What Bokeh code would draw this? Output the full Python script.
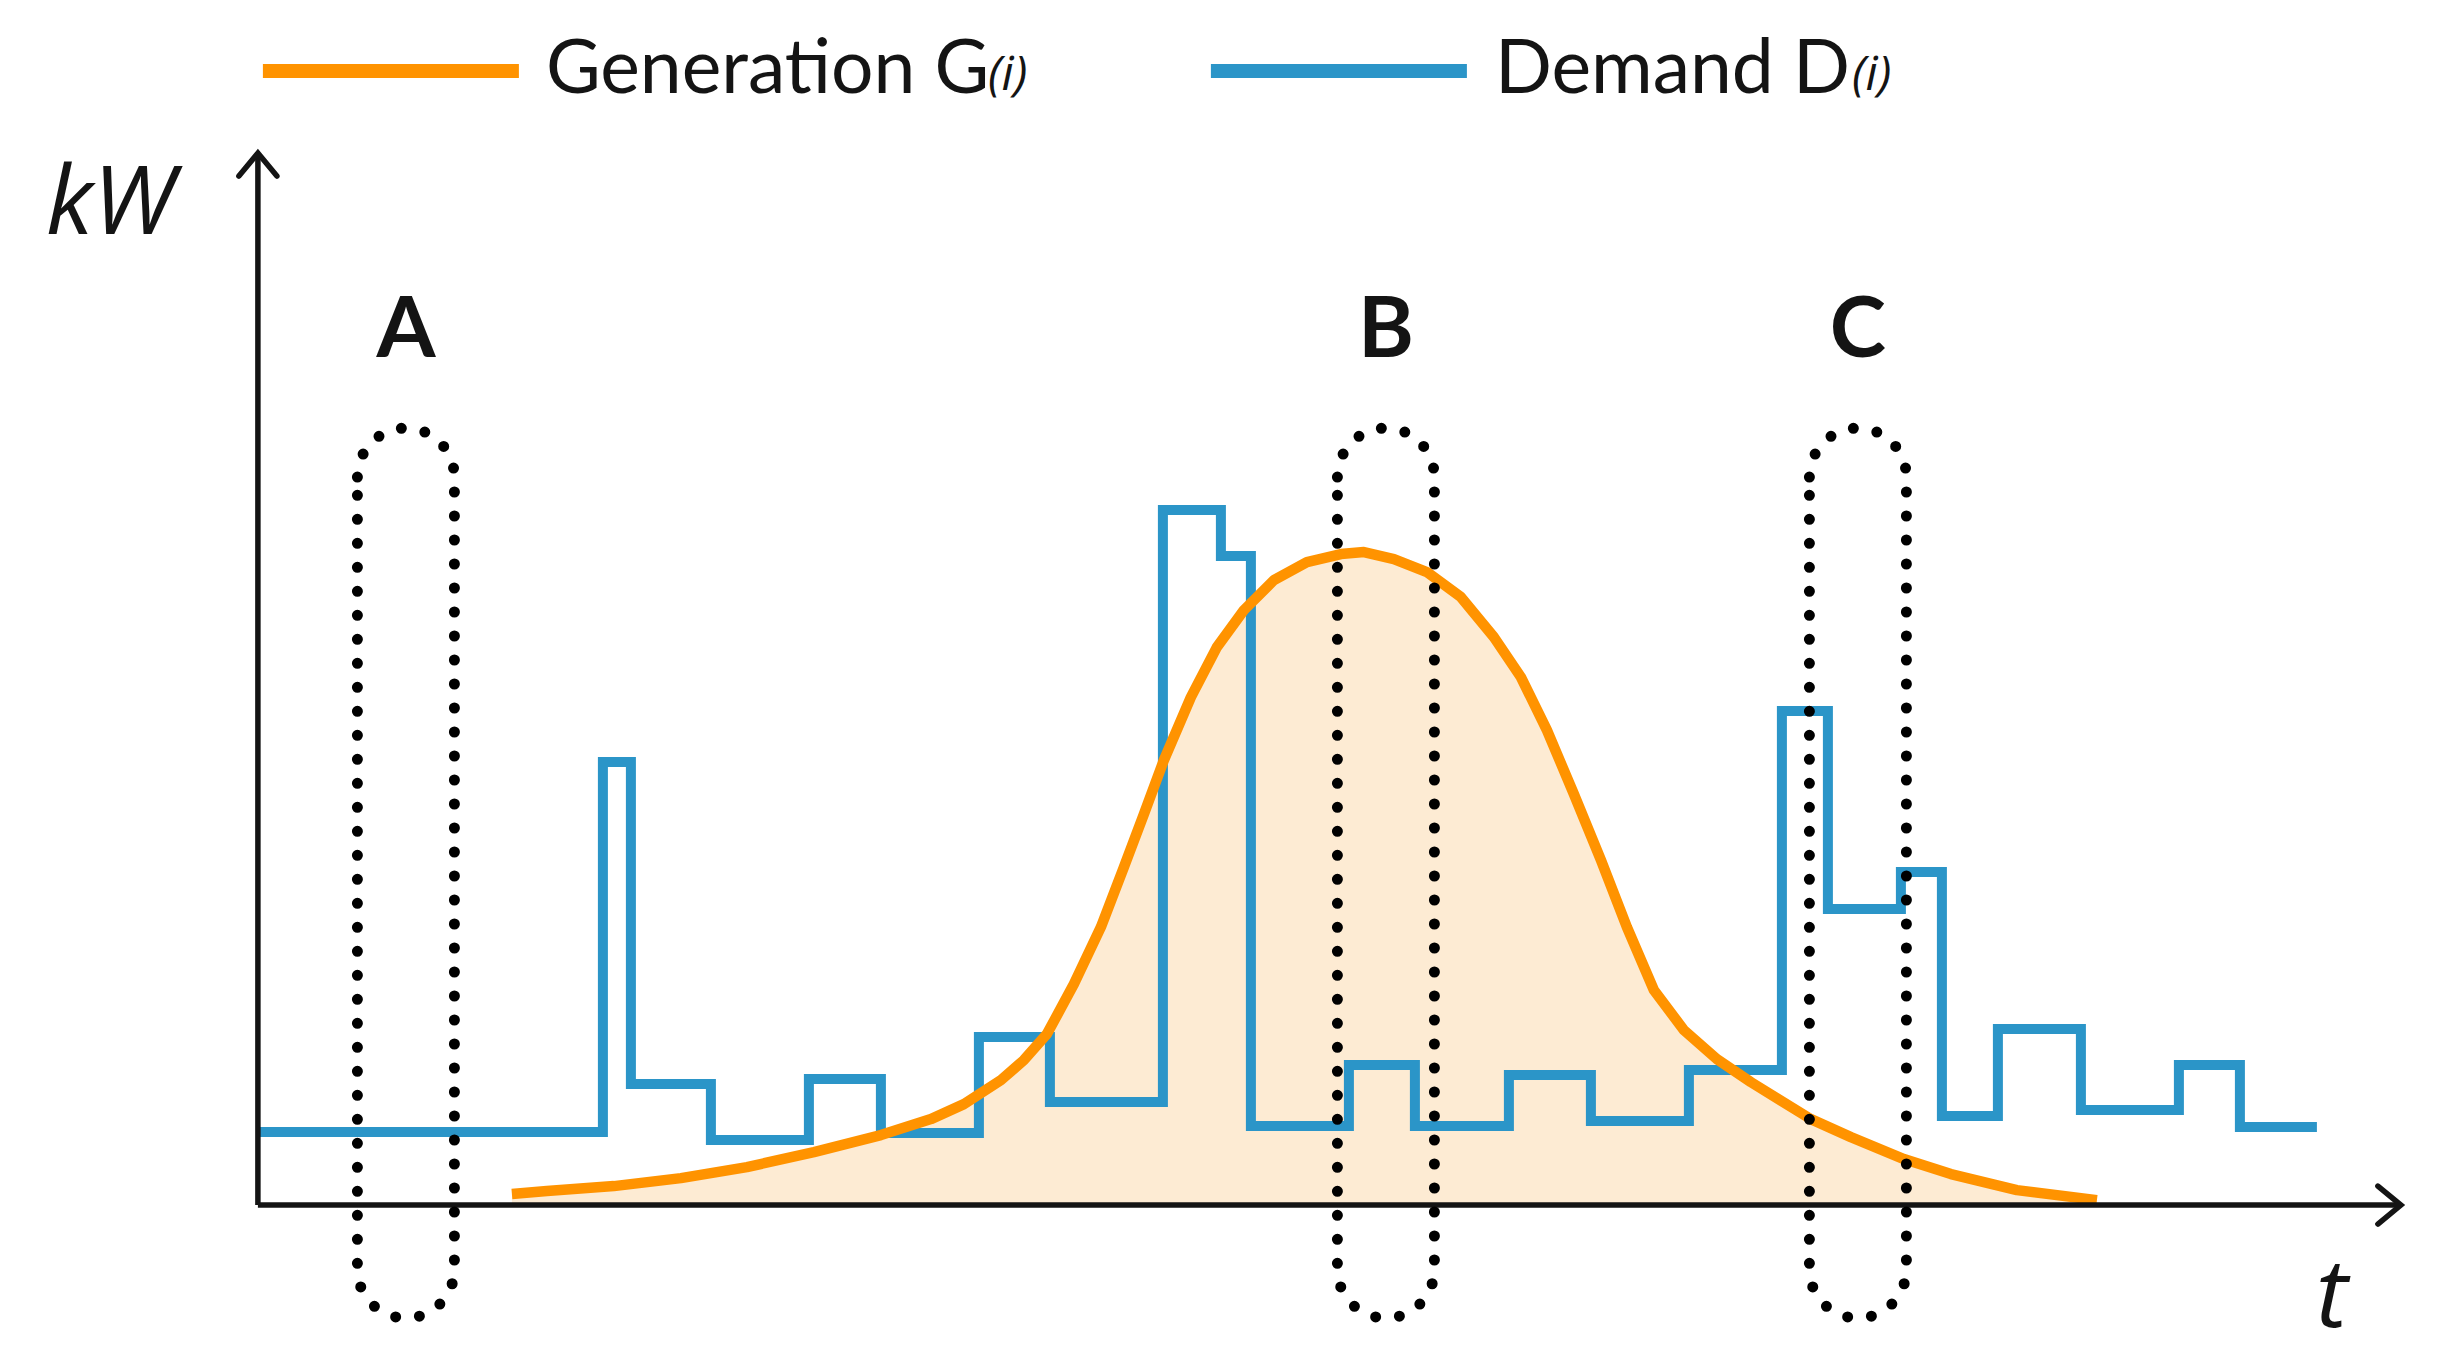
import numpy as np
from bokeh.plotting import figure
from bokeh.models import Range1d
from bokeh.core.properties import value
from bokeh.embed import file_html
from bokeh.resources import INLINE

# ---------------- data (t and kW in arbitrary units) ----------------
demand_edges_t = [0.0, 34.5, 37.3, 45.3, 55.1, 62.3, 72.1, 79.2, 90.5, 96.3, 99.3,
                  109.1, 115.7, 125.1, 133.3, 143.1, 152.4, 157.0, 164.3, 168.4,
                  174.0, 182.3, 192.1, 198.2, 205.9]
demand_kw = [7.3, 44.3, 12.1, 6.5, 12.6, 7.2, 16.8, 10.3, 69.5, 64.9, 7.9, 14.0,
             7.9, 13.0, 8.4, 13.5, 49.4, 29.6, 33.3, 8.9, 17.6, 9.5, 14.0, 7.8]

generation_t = [25.4, 28.9, 35.6, 42.3, 48.9, 55.6, 62.3, 67.3, 70.6, 74.3, 76.6,
                78.9, 81.6, 84.3, 86.6, 88.6, 90.6, 93.3, 95.9, 98.6, 101.6, 104.9,
                108.3, 110.6, 113.6, 116.9, 120.3, 123.6, 126.3, 128.9, 131.6, 134.3,
                136.9, 139.6, 142.6, 145.9, 149.3, 155.3, 159.3, 164.6, 169.3, 175.9,
                183.9]
generation_kw = [1.1, 1.4, 1.9, 2.7, 3.8, 5.3, 7.0, 8.6, 10.1, 12.5, 14.5, 17.1,
                 22.1, 27.8, 33.8, 39.1, 44.5, 50.8, 55.8, 59.5, 62.5, 64.3, 65.1,
                 65.3, 64.6, 63.3, 60.8, 56.8, 52.8, 47.5, 41.1, 34.5, 27.8, 21.5,
                 17.5, 14.6, 12.3, 8.6, 6.8, 4.6, 3.1, 1.5, 0.5]

region_labels = ["A", "B", "C"]
region_center_t = [14.8, 112.8, 160.0]
region_top_kw = 77.7
region_bottom_kw = -11.3
region_half_width = 4.85

# ---------------- styling ----------------
BLUE = "#2B95C8"
ORANGE = "#FF9300"
FILL = "#FDEBD3"
INK = "#141414"
FONT = value("Lato")
IFONT = value("Open Sans")
BASE = 0.038          # baseline correction: 0.38 em, in data units per px of font size


def up(px):
    return BASE * px


W, H = 2440, 1360
X0, Y1 = -25.74, 120.46          # 10 screen px per unit on both axes
p = figure(width=W, height=H, x_range=Range1d(X0, X0 + W / 10), y_range=Range1d(Y1 - H / 10, Y1),
           output_backend="svg", toolbar_location=None, x_axis_type=None, y_axis_type=None,
           min_border=0, min_border_left=0, min_border_right=0, min_border_top=0, min_border_bottom=0)
p.outline_line_color = None
p.background_fill_color = "white"
p.border_fill_color = "white"
p.xgrid.grid_line_color = None
p.ygrid.grid_line_color = None

# generation area + demand step + generation curve
p.varea(x=generation_t, y1=[0] * len(generation_t), y2=generation_kw, fill_color=FILL)

step_y = demand_kw + [demand_kw[-1]]
p.step(x=demand_edges_t, y=step_y, mode="after", line_color=BLUE, line_width=10, line_join="miter")

p.line(x=generation_t, y=generation_kw, line_color=ORANGE, line_width=10.5,
       line_cap="butt", line_join="round")

# axes with open arrow heads
x_tip = 214.3
y_tip = 105.2
p.line(x=[0, 0], y=[0, y_tip], line_color=INK, line_width=5.5)
p.line(x=[0, x_tip], y=[0, 0], line_color=INK, line_width=5.5)
p.multi_line(xs=[[-1.9, 0, 1.9], [x_tip - 2.3, x_tip, x_tip - 2.3]],
             ys=[[y_tip - 2.3, y_tip, y_tip - 2.3], [1.9, 0, -1.9]],
             line_color=INK, line_width=5.5, line_cap="round", line_join="miter")

p.text(x=[-21.2], y=[97.2 + up(96)], text=["kW"], text_font=IFONT, text_font_style="italic",
       text_font_size=value("96px"), text_color=INK, text_baseline="alphabetic", text_align="left")
p.text(x=[207.4], y=[-12.1 + up(96)], text=["t"], text_font=IFONT, text_font_style="italic",
       text_font_size=value("96px"), text_color=INK, text_baseline="alphabetic", text_align="center")

# dotted capsules around the time steps A, B, C
cap = 4.9
th_top = np.linspace(np.pi, 0, 40)
th_bot = np.linspace(0, -np.pi, 40)
for c in region_center_t:
    xs = np.concatenate([c + region_half_width * np.cos(th_top),
                         c + region_half_width * np.cos(th_bot),
                         [c - region_half_width]])
    ys = np.concatenate([(region_top_kw - cap) + cap * np.sin(th_top),
                         (region_bottom_kw + cap) + cap * np.sin(th_bot),
                         [region_top_kw - cap]])
    p.line(x=xs, y=ys, line_color="black", line_width=11, line_dash="0 24", line_cap="round")

p.text(x=region_center_t, y=[84.9 + up(85)] * 3, text=region_labels, text_font=FONT,
       text_font_style="bold", text_font_size=value("85px"), text_color=INK,
       text_align="center", text_baseline="alphabetic")

# legend (drawn by hand)
p.line(x=[0.5, 26.1], y=[113.4, 113.4], line_color=ORANGE, line_width=14)
p.line(x=[95.3, 120.9], y=[113.4, 113.4], line_color=BLUE, line_width=14)
p.text(x=[28.8, 123.7], y=[111.3 + up(75)] * 2, text=["Generation G", "Demand D"],
       text_font=FONT, text_font_size=value("75px"), text_color=INK,
       text_baseline="alphabetic", text_align="left")
p.text(x=[73.0, 159.4], y=[111.5 + up(48)] * 2, text=["(i)", "(i)"],
       text_font=IFONT, text_font_style="italic", text_font_size=value("48px"),
       text_color=INK, text_baseline="alphabetic", text_align="left")

open("out.html", "w").write(file_html(p, INLINE))
